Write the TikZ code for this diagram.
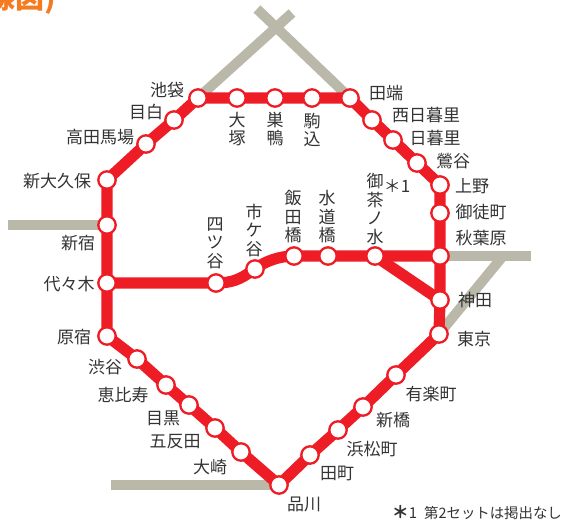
\documentclass[tikz,border=0pt]{standalone}
\usepackage{fontspec}
\setmainfont{Noto Sans CJK JP}
\usetikzlibrary{backgrounds}
\definecolor{linered}{HTML}{EE1C25}
\definecolor{linegrey}{HTML}{B9B8A9}
\definecolor{labeltext}{HTML}{333333}
\definecolor{titleorange}{HTML}{F47B20}
\tikzset{
  st/.style={circle,draw=linered,fill=white,line width=2.3pt,minimum size=17.4pt,inner sep=0pt},
  lb/.style={text=labeltext,font=\fontsize{17}{18.5}\selectfont,inner sep=0pt},
  vlb/.style={lb,align=center},
  redline/.style={draw=linered,line width=11.2pt,line join=round},
  greyline/.style={draw=linegrey,line width=10pt}
}
\begin{document}
\begin{tikzpicture}[x=1pt,y=-1pt]
\useasboundingbox (0,0) rectangle (564,523);
% stations
\node[st] (ikebukuro) at (198,98) {};
\node[st] (otsuka) at (237,98) {};
\node[st] (sugamo) at (275,98) {};
\node[st] (komagome) at (312,98) {};
\node[st] (tabata) at (350,98) {};
\node[st] (nishinippori) at (372,120) {};
\node[st] (nippori) at (393,140) {};
\node[st] (uguisudani) at (417,163) {};
\node[st] (ueno) at (440,185) {};
\node[st] (okachimachi) at (440,213) {};
\node[st] (akihabara) at (440,256) {};
\node[st] (kanda) at (440,300) {};
\node[st] (tokyo) at (439,334) {};
\node[st] (yurakucho) at (396,375) {};
\node[st] (shimbashi) at (363,407) {};
\node[st] (hamamatsucho) at (338,430) {};
\node[st] (tamachi) at (310,455) {};
\node[st] (shinagawa) at (279,485) {};
\node[st] (osaki) at (241,452) {};
\node[st] (gotanda) at (215,428) {};
\node[st] (meguro) at (189,405) {};
\node[st] (ebisu) at (166,385) {};
\node[st] (shibuya) at (137,359) {};
\node[st] (harajuku) at (107,336) {};
\node[st] (yoyogi) at (107,283) {};
\node[st] (shinjuku) at (107,225) {};
\node[st] (shinokubo) at (107,180) {};
\node[st] (takadanobaba) at (146,144) {};
\node[st] (mejiro) at (174,120) {};
\node[st] (yotsuya) at (216,283) {};
\node[st] (ichigaya) at (255,269) {};
\node[st] (iidabashi) at (294,256) {};
\node[st] (suidobashi) at (328,256) {};
\node[st] (ochanomizu) at (375,256) {};
% free ends of the grey lines
\coordinate (gtopleft) at (257,9);
\coordinate (gtopright) at (292,13);
\coordinate (gleft) at (8,225);
\coordinate (gbottom) at (111,485);
\coordinate (gright) at (531,256);
\coordinate (gdiag) at (503,256);
\begin{scope}[on background layer]
  \draw[greyline] (ikebukuro.center) -- (gtopright);
  \draw[greyline] (tabata.center) -- (gtopleft);
  \draw[greyline] (shinjuku.center) -- (gleft);
  \draw[greyline] (shinagawa.center) -- (gbottom);
  \draw[greyline] (akihabara.center) -- (gright);
  \draw[greyline] (tokyo.center) -- (gdiag);
  \draw[redline] (ikebukuro.center) -- (otsuka.center) -- (sugamo.center) -- (komagome.center) -- (tabata.center) -- (nishinippori.center) -- (nippori.center) -- (uguisudani.center) -- (ueno.center) -- (okachimachi.center) -- (akihabara.center) -- (kanda.center) -- (tokyo.center) -- (yurakucho.center) -- (shimbashi.center) -- (hamamatsucho.center) -- (tamachi.center) -- (shinagawa.center) -- (osaki.center) -- (gotanda.center) -- (meguro.center) -- (ebisu.center) -- (shibuya.center) -- (harajuku.center) -- (yoyogi.center) -- (shinjuku.center) -- (shinokubo.center) -- (takadanobaba.center) -- (mejiro.center) -- (ikebukuro.center);
  \draw[redline] (yoyogi.center) -- (yotsuya.center) .. controls (238,283) and (245,275) .. (ichigaya.center) .. controls (265,261) and (280,256) .. (iidabashi.center) -- (suidobashi.center) -- (ochanomizu.center) -- (akihabara.center);
  \draw[redline] (ochanomizu.center) -- (kanda.center);
\end{scope}
% labels
\node[lb] (t1) at (167,90) {池袋};
\node[lb] (t2) at (146,112) {目白};
\node[lb] (t3) at (100,137) {高田馬場};
\node[lb] (t4) at (57,181) {新大久保};
\node[lb] (t5) at (78,243) {新宿};
\node[lb] (t6) at (69,284) {代々木};
\node[lb] (t7) at (74,337) {原宿};
\node[lb] (t8) at (105,367) {渋谷};
\node[lb] (t9) at (123,395) {恵比寿};
\node[lb] (t10) at (163,418) {目黒};
\node[lb] (t11) at (175,442) {五反田};
\node[lb] (t12) at (210,467) {大崎};
\node[lb] (t13) at (304,504) {品川};
\node[lb] (t14) at (337,473) {田町};
\node[lb] (t15) at (372,449) {浜松町};
\node[lb] (t16) at (393,420) {新橋};
\node[lb] (t17) at (431,394) {有楽町};
\node[lb] (t18) at (474,339) {東京};
\node[lb] (t19) at (475,300) {神田};
\node[lb] (t20) at (481,238) {秋葉原};
\node[lb] (t21) at (481,212) {御徒町};
\node[lb] (t22) at (472,186) {上野};
\node[lb] (t23) at (453,161) {鶯谷};
\node[lb] (t24) at (435,138) {日暮里};
\node[lb] (t25) at (426,115) {西日暮里};
\node[lb] (t26) at (386,93) {田端};
\node[vlb] (t27) at (237,129) {大\\塚};
\node[vlb] (t28) at (275,129) {巣\\鴨};
\node[vlb] (t29) at (312,130) {駒\\込};
\node[vlb] (t30) at (215,243) {四\\ツ\\谷};
\node[vlb] (t31) at (254,230) {市\\ケ\\谷};
\node[vlb] (t32) at (293,217) {飯\\田\\橋};
\node[vlb] (t33) at (327,217) {水\\道\\橋};
\node[vlb] (t34) at (375,209) {御\\茶\\ノ\\水};
\node[lb] (t35) at (397,186) {＊1};
\node[lb,font=\fontsize{14.4}{16}\selectfont,anchor=east] (t36) at (562,513) {{\fontsize{17}{16}\selectfont\bfseries ＊}{\fontsize{15}{16}\selectfont 1}\hspace{7pt}第2セットは掲出なし};
\begin{scope}
  \clip (0,0) rectangle (564,523);
  \node[text=titleorange,font=\bfseries\fontsize{29}{29}\selectfont,inner sep=0pt,anchor=base east] (t37) at (56,8) {線図)};
\end{scope}
\end{tikzpicture}
\end{document}
